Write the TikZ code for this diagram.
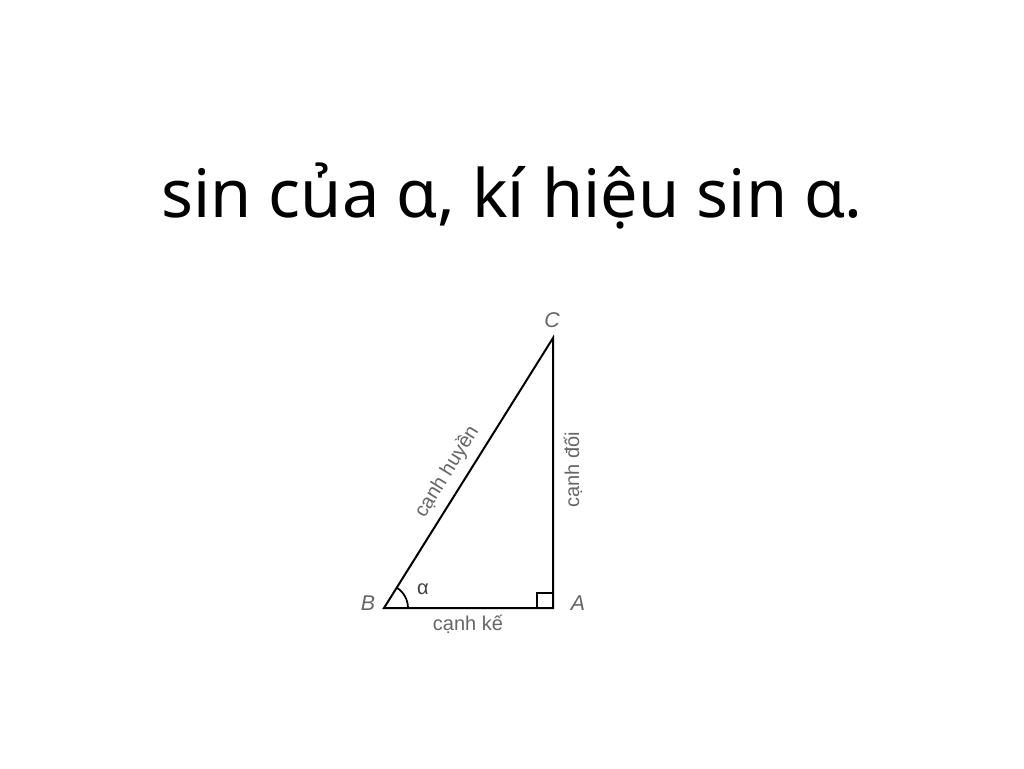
\documentclass[tikz,border=0pt]{standalone}
\usepackage{fontspec}
\usetikzlibrary{calc}
\setmainfont{Noto Sans}
\newfontfamily\labelfont{Liberation Sans}
\begin{document}
\begin{tikzpicture}[x=0.75pt,y=-0.75pt,
  side/.style={line width=1.5pt,black},
  lbl/.style={font=\labelfont\fontsize{15}{18}\selectfont,text=black!60,inner sep=0pt},
  vlbl/.style={font=\labelfont\itshape\fontsize{16}{18}\selectfont,text=black!60,inner sep=0pt},
  title/.style={font=\fontsize{50}{60}\selectfont,inner sep=0pt,anchor=base}]
\useasboundingbox (0,0) rectangle (1024,768);
\fill[white] (0,0) rectangle (1024,768);
\node[title] (t) at (512,217) {sin của α, kí hiệu sin α.};
\coordinate (B) at (384,608);
\coordinate (A) at (553,608);
\coordinate (C) at (553,338);
\draw[side,line join=miter] (B) -- (A) -- (C) -- cycle;
\draw[line width=1.3pt] (537,608) -- (537,593) -- (553,593);
\draw[line width=1.3pt] ($(B)+(24,0)$) arc[start angle=0,end angle=-58.2,radius=24];
\node[vlbl] (lB) at (368,603) {B};
\node[vlbl] (lA) at (578,603) {A};
\node[vlbl] (lC) at (552,320) {C};
\node[lbl,text=black!75] (al) at (423,589) {α};
\node[lbl] (ck) at (468,624) {cạnh kế};
\node[lbl,rotate=90] (cd) at (573,470) {cạnh đối};
\node[lbl,rotate=58.2] (ch) at (447,472) {cạnh huyền};
\end{tikzpicture}
\end{document}
